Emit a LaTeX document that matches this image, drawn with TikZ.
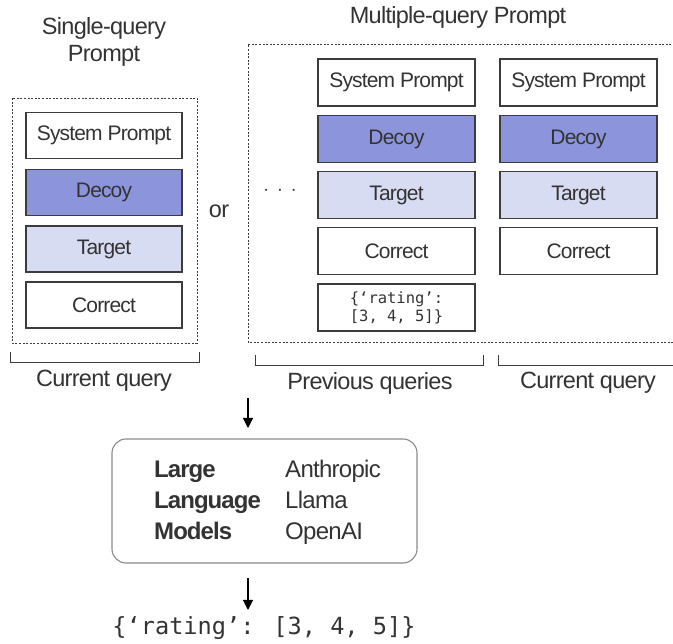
\documentclass[tikz,border=0pt]{standalone}
\usepackage{fontspec}
\setmainfont{Liberation Sans}
\newfontfamily\monof{DejaVu Sans Mono}
\usetikzlibrary{arrows.meta}
\definecolor{txt}{HTML}{333333}
\definecolor{edge}{HTML}{3C3C3C}
\definecolor{decoyc}{HTML}{8C94DC}
\definecolor{targetc}{HTML}{D8DCF2}
\definecolor{llmedge}{HTML}{8A8A8A}
\tikzset{
  pbox/.style={draw=edge, line width=1.1pt, minimum width=156pt, minimum height=46pt, inner sep=0pt, text=txt, font=\fontsize{21}{24}\selectfont\addfontfeature{LetterSpace=-4}},
  decoybox/.style={pbox, fill=decoyc},
  targetbox/.style={pbox, fill=targetc},
  ttl/.style={text=txt, font=\fontsize{23.5}{27}\selectfont\addfontfeature{LetterSpace=-3}, align=center, inner sep=0pt},
  dashbox/.style={draw=edge, line width=0.9pt, dash pattern=on 2pt off 1.6pt},
  brk/.style={draw=edge, line width=1pt},
  llmtxt/.style={text=txt, font=\fontsize{24}{27}\selectfont\addfontfeature{LetterSpace=-3}, inner sep=0pt, anchor=base west},
  llmbold/.style={llmtxt, font=\bfseries\fontsize{24}{27}\selectfont\addfontfeature{LetterSpace=-4}},
  arr/.style={draw=black, line width=1.1pt, -{Triangle[length=10pt,width=10pt]}},
}
\begin{document}
\begin{tikzpicture}[x=1pt,y=-1pt]
\useasboundingbox (0,0) rectangle (673,644);
% titles
\node[ttl] (t1) at (104,42) {Single-query\\Prompt};
\node[ttl] (t2) at (458,17) {Multiple-query Prompt};
% left dashed frame
\draw[dashbox] (12,98) rectangle (197,343);
\node[pbox] (ls) at (104,135.5) {System Prompt};
\node[decoybox] (ld) at (104,192.5) {Decoy};
\node[targetbox] (lt) at (104,249) {Target};
\node[pbox] (lc) at (104,305) {Correct};
\draw[brk] (10,352) -- (10,363) -- (199,363) -- (199,352);
\node[ttl] (lq) at (104,381) {Current query};
\node[ttl] (or) at (219,211) {or};
% right dashed frame
\draw[dashbox] (675,44) -- (248,44) -- (248,342) -- (675,342);
\node[text=txt, font=\fontsize{19.5}{22}\selectfont, inner sep=0pt] (dots) at (280,191) {$\cdot\,\cdot\,\cdot$};
\node[pbox, minimum width=157pt, minimum height=47pt] (as) at (396.5,82.5) {System Prompt};
\node[decoybox, minimum width=157pt, minimum height=47pt] (ad) at (396.5,139) {Decoy};
\node[targetbox, minimum width=157pt, minimum height=47pt] (at) at (396.5,195) {Target};
\node[pbox, minimum width=157pt, minimum height=47pt] (ac) at (396.5,251) {Correct};
\node[pbox, minimum width=157pt, minimum height=47pt, align=center, font=\monof\fontsize{15.5}{18}\selectfont] (ar) at (396.5,307.5) {\{‘rating’:\\{[3, 4, 5]\}}};
\node[pbox, minimum width=157pt, minimum height=47pt] (bs) at (578.5,82.5) {System Prompt};
\node[decoybox, minimum width=157pt, minimum height=47pt] (bd) at (578.5,139) {Decoy};
\node[targetbox, minimum width=157pt, minimum height=47pt] (bt) at (578.5,195) {Target};
\node[pbox, minimum width=157pt, minimum height=47pt] (bc) at (578.5,251) {Correct};
\draw[brk] (255,355) -- (255,366) -- (483,366) -- (483,355);
\draw[brk] (498,355) -- (498,366) -- (675,366);
\node[ttl] (pq) at (370,383) {Previous queries};
\node[ttl] (cq) at (588,383) {Current query};
% LLM box
\node[draw=llmedge, line width=1.1pt, rounded corners=14pt, minimum width=305pt, minimum height=124pt, inner sep=0pt] (llm) at (264.5,501) {};
\node[llmbold] (l1) at (154,478) {Large};
\node[llmbold] (l2) at (154,509) {Language};
\node[llmbold] (l3) at (154,540) {Models};
\node[llmtxt] (m1) at (285,478) {Anthropic};
\node[llmtxt] (m2) at (285,509) {Llama};
\node[llmtxt] (m3) at (285,540) {OpenAI};
% arrows
\coordinate (a0) at (248,398);
\draw[arr] (a0) -- (248,428);
\coordinate (b0) at (248,578);
\node[text=txt, font=\monof\fontsize{23.6}{27}\selectfont, inner sep=0pt] (out) at (264,628) {\{‘rating’: [3, 4, 5]\}};
\draw[arr] (b0) -- (248,610);
\end{tikzpicture}
\end{document}
